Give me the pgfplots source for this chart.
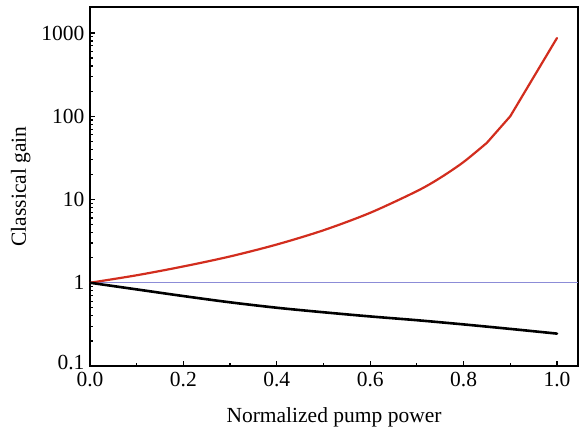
\documentclass[border=0pt]{standalone}
\usepackage{pgfplots}
\pgfplotsset{compat=1.18}
\usepackage{fontspec}
\setmainfont{Liberation Serif}
\usetikzlibrary{calc}
\definecolor{gainred}{RGB}{210,45,30}
\definecolor{unitblue}{RGB}{140,140,215}
\begin{document}
\begin{tikzpicture}
\begin{semilogyaxis}[
  name=ax,
  scale only axis,
  width=488bp, height=359bp,
  xmin=0, xmax=1.045,
  ymin=0.1, ymax=2050,
  xtick={0,0.2,...,1.0},
  minor xtick={0.1,0.3,...,0.9},
  xticklabel style={yshift=-3bp, /pgf/number format/.cd, fixed, fixed zerofill, precision=1},
  ytick={0.1,1,10,100,1000},
  yticklabels={\raisebox{7bp}{0.1},1,10,100,1000},
  tick pos=left,
  tick align=inside,
  major tick length=5bp,
  minor tick length=3bp,
  every tick/.style={black, line width=1.2bp},
  axis line style={line width=1.6bp},
  /pgf/number format/assume math mode=true,
  tick label style={font=\fontsize{21.5bp}{24bp}\selectfont},
  yticklabel style={xshift=-2bp},
  label style={font=\fontsize{21.5bp}{24bp}\selectfont},
  xlabel={Normalized pump power},
  ylabel={Classical gain},
  xlabel style={yshift=-14bp},
  ylabel style={yshift=4bp},
  clip=true,
]
\addplot[unitblue, line width=0.9bp] coordinates {(0,1) (1.045,1)};
% red: smooth up to 0.85, then straight segments to 1.0
\addplot[gainred, line width=2.2bp, smooth, tension=0.5, line cap=round] coordinates {
  (0,1) (0.1,1.23) (0.2,1.57) (0.3,2.07) (0.4,2.88) (0.5,4.27) (0.6,6.92)
  (0.7,12.6) (0.75,18.2) (0.8,28.2) (0.85,48)
};
\addplot[gainred, line width=2.2bp, line cap=round, line join=round] coordinates {(0.85,48) (0.9,100) (1.0,870)};
\addplot[black, line width=2.6bp, smooth, tension=0.5, line cap=round] coordinates {
  (0,1) (0.1,0.832) (0.2,0.692) (0.3,0.582) (0.4,0.501) (0.5,0.442) (0.6,0.394)
  (0.7,0.355) (0.8,0.316) (0.9,0.279) (1.0,0.245)
};
\end{semilogyaxis}
\pgfresetboundingbox
\path[use as bounding box] ($(ax.south west)+(-90bp,-66bp)$) rectangle ($(ax.north east)+(3bp,7bp)$);
\end{tikzpicture}
\end{document}
